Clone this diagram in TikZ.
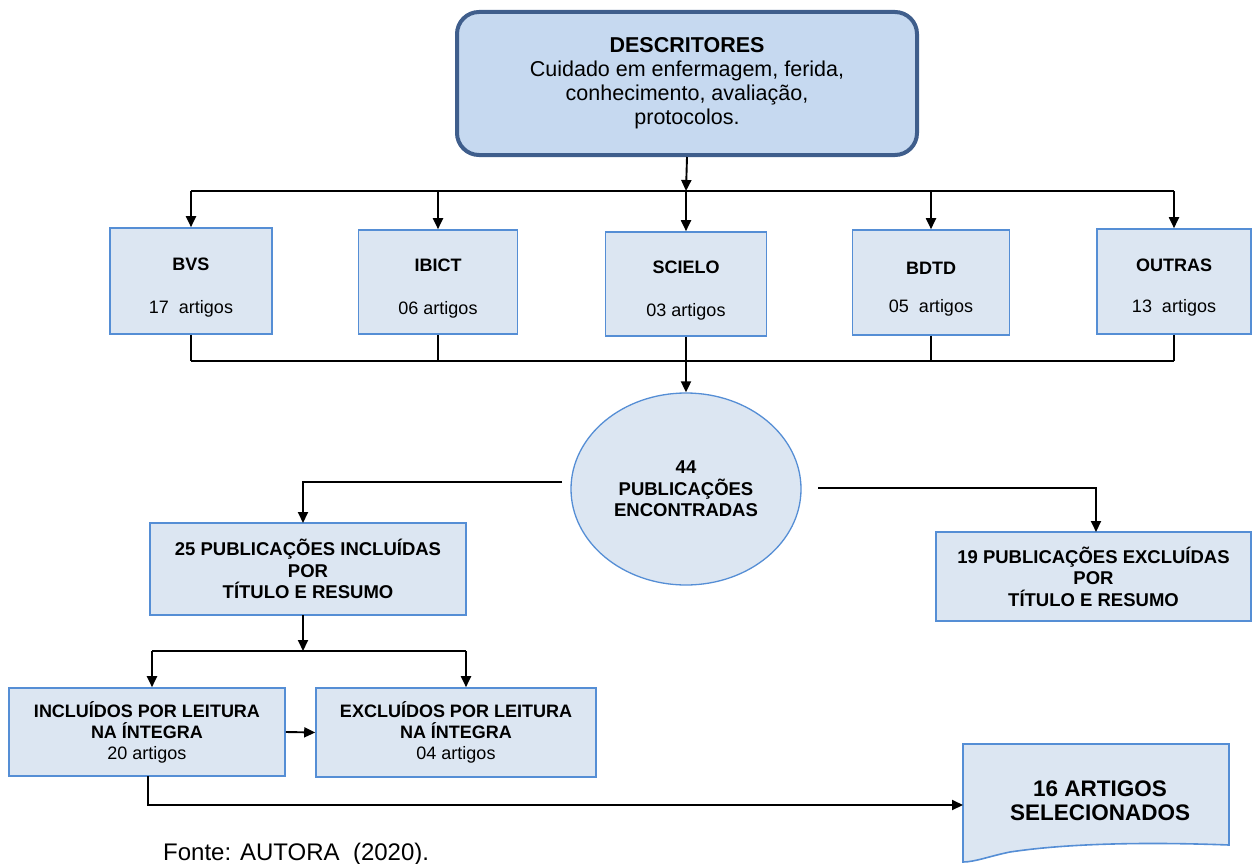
\documentclass[tikz,border=0pt]{standalone}
\usepackage{fontspec}
\setmainfont{Liberation Sans}
\usetikzlibrary{arrows.meta,shapes.geometric}
\definecolor{boxfill}{HTML}{DCE6F2}
\definecolor{boxline}{HTML}{558ED5}
\definecolor{topfill}{HTML}{C6D9F0}
\definecolor{topline}{HTML}{3F5E8C}
\newcommand{\toppad}{\rule{0pt}{25pt}}
\begin{document}
\begin{tikzpicture}[x=1pt,y=-1pt,
 bx/.style={draw=boxline, fill=boxfill, line width=1.6pt, inner sep=0pt, align=center, font=\fontsize{18}{21}\selectfont},
 bbx/.style={bx, font=\fontsize{18.5}{21.5}\selectfont\bfseries},
 conn/.style={line width=1.9pt},
 arr/.style={conn,-{Triangle[length=11pt,width=10pt]}}]
\useasboundingbox (0,0) rectangle (1252,864);

% top box
\node[draw=topline, fill=topfill, line width=4pt, rounded corners=22pt, minimum width=460, minimum height=143, inner sep=0pt, align=center, font=\fontsize{21.5}{24}\selectfont] (top) at (687,83.5)
 {\textbf{DESCRITORES}\\Cuidado em enfermagem, ferida,\\conhecimento, avaliação,\\protocolos.};

% database boxes
\node[bx, minimum width=162, minimum height=106] (bvs) at (191,281) {\toppad\textbf{BVS}\\[22pt]17\ \ artigos};
\node[bx, minimum width=159, minimum height=104] (ibict) at (438,282) {\toppad\textbf{IBICT}\\[22pt]06 artigos};
\node[bx, minimum width=161, minimum height=104] (scielo) at (686,284) {\toppad\textbf{SCIELO}\\[22pt]03 artigos};
\node[bx, minimum width=157, minimum height=105] (bdtd) at (931,282.5) {\toppad\textbf{BDTD}\\[17pt]05\ \ artigos};
\node[bx, minimum width=154, minimum height=105] (outras) at (1174,281.5) {\toppad\textbf{OUTRAS}\\[20pt]13\ \ artigos};

\coordinate (busA) at (686,191);
\coordinate (busB) at (686,361);

\draw[arr] (top.south) -- (busA);
\draw[conn] (bvs.north |- busA) -- (outras.north |- busA);
\foreach \n in {bvs,ibict,scielo,bdtd,outras}{
  \draw[arr] (\n.north |- busA) -- (\n.north);
  \draw[conn] (\n.south) -- (\n.south |- busB);
}
\draw[conn] (bvs.south |- busB) -- (outras.south |- busB);

% ellipse
\node[ellipse, draw=boxline, fill=boxfill, line width=1.3pt, minimum width=230, minimum height=192, inner sep=0pt, align=center, font=\fontsize{18.5}{21.5}\selectfont\bfseries] (ell) at (686,489)
 {44\\PUBLICAÇÕES\\ENCONTRADAS};
\draw[arr] (busB) -- (ell.north);

% second level
\node[bbx, minimum width=316, minimum height=92] (b25) at (308,569) {25 PUBLICAÇÕES INCLUÍDAS\\POR\\TÍTULO E RESUMO};
\node[bbx, minimum width=315, minimum height=89] (b19) at (1093.5,576.5) {19 PUBLICAÇÕES EXCLUÍDAS\\POR\\TÍTULO E RESUMO};

\coordinate (eL) at (562,482);
\coordinate (eR) at (818,488);
\coordinate (b25in) at (303,523);
\coordinate (b19in) at (1096,532);
\draw[arr] (eL) -| (b25in);
\draw[arr] (eR) -| (b19in);

% third level
\node[bx, minimum width=276, minimum height=88] (incl) at (147,732) {\textbf{INCLUÍDOS POR LEITURA}\\\textbf{NA ÍNTEGRA}\\20 artigos};
\node[bx, minimum width=280, minimum height=89] (excl) at (456,732.5) {\textbf{EXCLUÍDOS POR LEITURA}\\\textbf{NA ÍNTEGRA}\\04 artigos};

\coordinate (b25out) at (303,615);
\coordinate (busC) at (303,651);
\coordinate (cL) at (152,651);
\coordinate (cR) at (466,651);
\draw[arr] (b25out) -- (busC);
\draw[conn] (cL) -- (cR);
\draw[arr] (cL) -- (cL |- incl.north);
\draw[arr] (cR) -- (cR |- excl.north);
\draw[arr] (incl.east) -- (excl.west);

% final document shape
\draw[draw=boxline, fill=boxfill, line width=1.6pt]
  (963,744) -- (1229,744) -- (1229,845) .. controls (1150,842) and (1070,843) .. (1010,852) .. controls (990,856) and (975,862) .. (963,862) -- cycle;
\node[align=center, font=\fontsize{22.5}{24}\selectfont\bfseries, inner sep=0pt] (doc) at (1100,801) {16 ARTIGOS\\SELECIONADOS};
\coordinate (docIn) at (963,805);
\coordinate (inclOut) at (148,776);
\draw[arr] (inclOut) |- (docIn);

\node[anchor=base west, inner sep=0pt, font=\fontsize{24}{28}\selectfont] (fonte) at (163,860) {Fonte: AUTORA\ \ (2020).};
\end{tikzpicture}
\end{document}
